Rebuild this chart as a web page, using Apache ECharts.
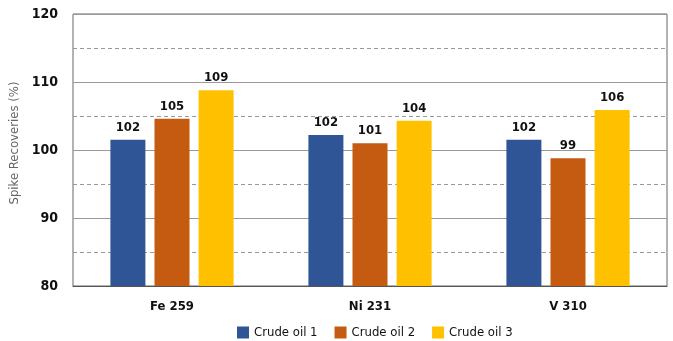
<!DOCTYPE html>
<html>
<head>
<meta charset="utf-8">
<script src="https://cdn.jsdelivr.net/npm/echarts@6/dist/echarts.min.js"></script>
<style>
  html, body { margin: 0; padding: 0; background: #fff; }
  #chart-container { width: 673px; height: 341px; }
</style>
</head>
<body>
<div id="chart-container"></div>
<script>
var categories = ['Fe 259', 'Ni 231', 'V 310'];
var seriesNames = ['Crude oil 1', 'Crude oil 2', 'Crude oil 3'];
var oil1 = [101.5, 102.2, 101.5];
var oil2 = [104.6, 101.0, 98.8];
var oil3 = [108.8, 104.3, 105.9];
var colors = ['#2F5597', '#C55A11', '#FFC000'];

var font = '"Liberation Sans Narrow", "DejaVu Sans Condensed", "Liberation Sans", sans-serif';

var dom = document.getElementById('chart-container');
var myChart = echarts.init(dom, null, { renderer: 'canvas' });

function makeSeries(name, data, color) {
    return {
        name: name,
        type: 'bar',
        data: data,
        barWidth: 35,
        barGap: '26%',
        itemStyle: { color: color },
        label: {
            show: true,
            position: 'top',
            distance: 6,
            color: '#111',
            fontFamily: font,
            fontSize: 13,
            fontWeight: 'bold',
            formatter: function (p) { return Math.round(p.value); }
        }
    };
}

var option = {
    animation: false,
    textStyle: { fontFamily: font },
    color: colors,
    grid: {
        left: 73, right: 6, top: 14, bottom: 55,
        outerBoundsMode: 'none',
        containLabel: false,
        show: true, borderColor: '#666', borderWidth: 1
    },
    legend: {
        top: 326,
        left: 237,
        padding: 0,
        icon: 'rect',
        itemWidth: 12,
        itemHeight: 12,
        itemGap: 17,
        textStyle: { fontFamily: font, fontSize: 13, color: '#111' },
        data: seriesNames
    },
    xAxis: {
        type: 'category',
        data: categories,
        axisTick: { show: false },
        axisLine: { lineStyle: { color: '#555' } },
        axisLabel: { color: '#111', fontSize: 13, fontWeight: 'bold', fontFamily: font, margin: 14 }
    },
    yAxis: {
        type: 'value',
        min: 80, max: 120, interval: 10,
        name: 'Spike Recoveries (%)',
        nameLocation: 'middle',
        nameGap: 44,
        nameTextStyle: { color: '#666', fontSize: 13, fontFamily: font, padding: [0, 0, 0, 14] },
        axisLine: { show: false },
        axisTick: { show: false },
        axisLabel: { color: '#111', fontSize: 14, fontWeight: 'bold', fontFamily: font, margin: 15 },
        splitLine: { lineStyle: { color: '#999', width: 1 } },
        minorTick: { show: false, splitNumber: 2 },
        minorSplitLine: { show: true, lineStyle: { color: '#999', type: [4, 3] } }
    },
    series: [
        makeSeries(seriesNames[0], oil1, colors[0]),
        makeSeries(seriesNames[1], oil2, colors[1]),
        makeSeries(seriesNames[2], oil3, colors[2])
    ]
};

myChart.setOption(option);
window.addEventListener('resize', myChart.resize);
</script>
</body>
</html>
